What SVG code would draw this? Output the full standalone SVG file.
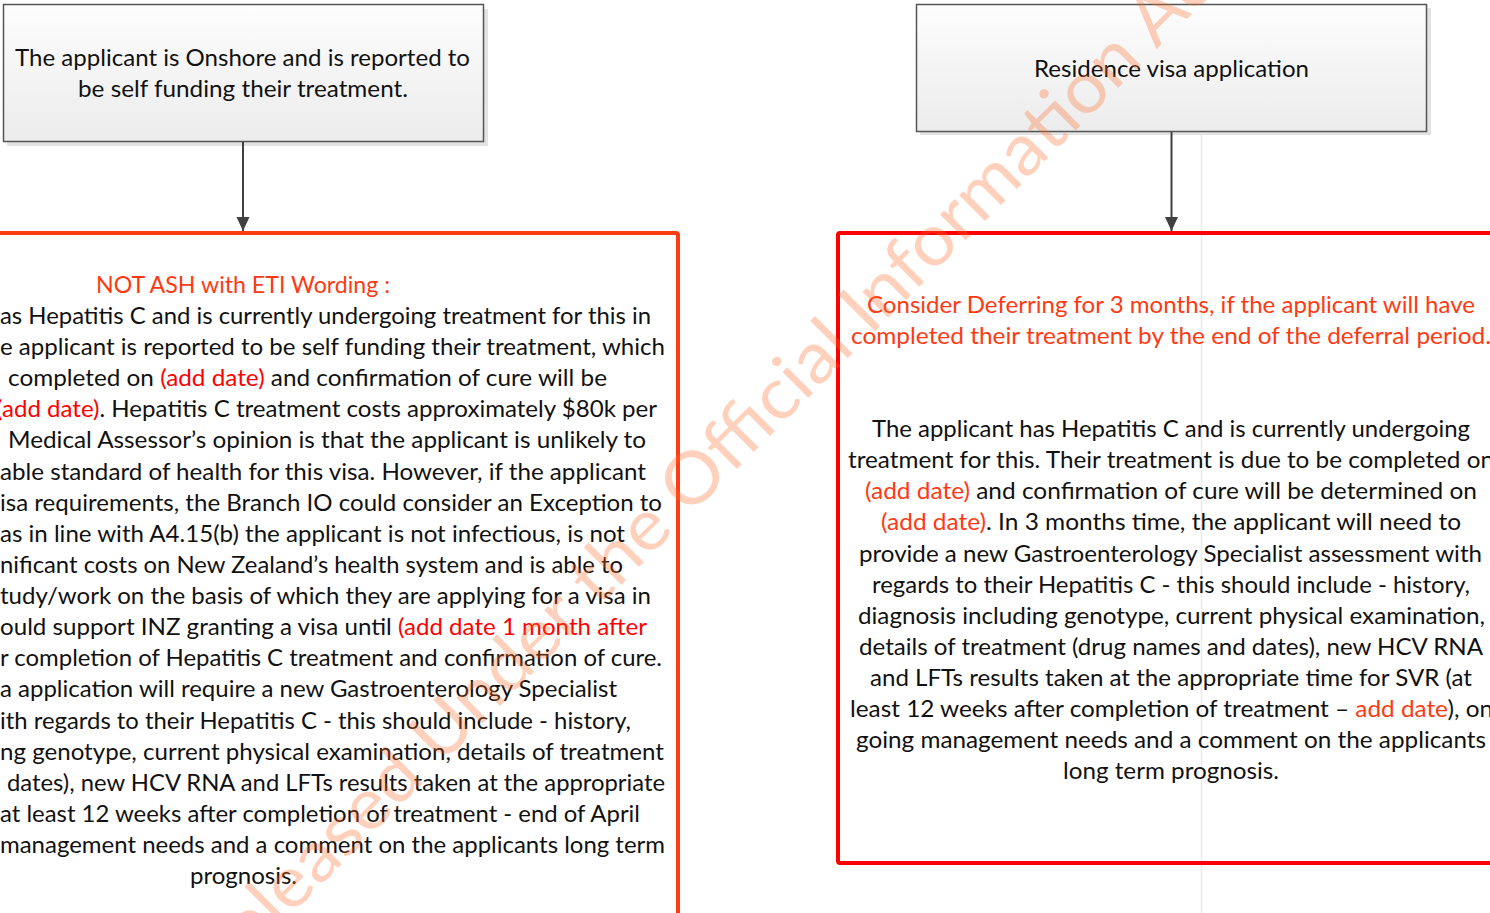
<svg xmlns="http://www.w3.org/2000/svg" width="1490" height="913" viewBox="0 0 1490 913">
<defs>
<linearGradient id="boxGrad" x1="0" y1="0" x2="0" y2="1">
<stop offset="0" stop-color="#fdfdfd"/>
<stop offset="1" stop-color="#ececec"/>
</linearGradient>
<marker id="arrow" markerUnits="userSpaceOnUse" markerWidth="15" markerHeight="15" viewBox="0 0 15 15" refX="14" refY="7.5" orient="auto">
<path d="M0,1 L14,7.5 L0,14 Z" fill="#404040"/>
</marker>
<style>
.t{font-family:Lato,"Open Sans","Liberation Sans",sans-serif;font-size:22.5px;fill:#111}
.r{fill:#ff0000}
.o{fill:#ff3a12}
.box{fill:url(#boxGrad);stroke:#555;stroke-width:1.5}
.shadow{fill:#e3e3e3}
.conn{stroke:#404040;stroke-width:2;fill:none}
.wm{font-family:Lato,"Liberation Sans",sans-serif;font-size:72px;fill:#ff6a26;opacity:0.3}
</style>
</defs>
<rect width="1490" height="913" fill="#ffffff"/>
<line x1="1201.5" y1="131" x2="1201.5" y2="913" stroke="#ebebeb" stroke-width="1.5"/>

<g id="node-onshore">
<rect class="shadow" x="7" y="9" width="481" height="137"/>
<rect class="box" x="3.5" y="4.5" width="480" height="137"/>
<text class="t" x="15" y="66" textLength="455" lengthAdjust="spacingAndGlyphs">The applicant is Onshore and is reported to</text>
<text class="t" x="78" y="97" textLength="330" lengthAdjust="spacingAndGlyphs">be self funding their treatment.</text>
</g>

<g id="node-residence">
<rect class="shadow" x="920" y="8" width="511" height="127"/>
<rect class="box" x="916.5" y="4.5" width="510" height="127"/>
<text class="t" x="1034" y="77" textLength="275" lengthAdjust="spacingAndGlyphs">Residence visa application</text>
</g>

<g id="node-not-ash">
<rect x="-10" y="233" width="688" height="720" rx="2" fill="none" stroke="#ff3c14" stroke-width="4"/>
<text class="t o" x="96" y="293" textLength="294" lengthAdjust="spacingAndGlyphs">NOT ASH with ETI Wording :</text>
<text class="t" x="0" y="324" textLength="651" lengthAdjust="spacingAndGlyphs">as Hepatitis C and is currently undergoing treatment for this in</text>
<text class="t" x="0" y="355" textLength="665" lengthAdjust="spacingAndGlyphs">e applicant is reported to be self funding their treatment, which</text>
<text class="t" x="8" y="386" textLength="599" lengthAdjust="spacingAndGlyphs">completed on <tspan class="r">(add date)</tspan> and confirmation of cure will be</text>
<text class="t" x="-4" y="417" textLength="661" lengthAdjust="spacingAndGlyphs"><tspan class="r">(add date)</tspan>. Hepatitis C treatment costs approximately $80k per</text>
<text class="t" x="8" y="448" textLength="638" lengthAdjust="spacingAndGlyphs">Medical  Assessor’s opinion is that the applicant is unlikely to</text>
<text class="t" x="0" y="480" textLength="646" lengthAdjust="spacingAndGlyphs">able standard of health for this visa. However, if the applicant</text>
<text class="t" x="0" y="511" textLength="662" lengthAdjust="spacingAndGlyphs">isa requirements, the Branch IO could consider an Exception to</text>
<text class="t" x="0" y="542" textLength="625" lengthAdjust="spacingAndGlyphs">as in line with A4.15(b) the applicant is not infectious, is not</text>
<text class="t" x="0" y="573" textLength="623" lengthAdjust="spacingAndGlyphs">nificant costs on New Zealand’s health system and is able to</text>
<text class="t" x="0" y="604" textLength="651" lengthAdjust="spacingAndGlyphs">tudy/work on the basis of which they are applying for a visa in</text>
<text class="t" x="0" y="635" textLength="647" lengthAdjust="spacingAndGlyphs">ould support INZ granting a visa until <tspan class="r">(add date 1 month after</tspan></text>
<text class="t" x="0" y="666" textLength="662" lengthAdjust="spacingAndGlyphs">r completion of Hepatitis C treatment and confirmation of cure.</text>
<text class="t" x="0" y="697" textLength="617" lengthAdjust="spacingAndGlyphs">a application will require a new Gastroenterology Specialist</text>
<text class="t" x="0" y="729" textLength="631" lengthAdjust="spacingAndGlyphs">ith regards to their Hepatitis C - this should include - history,</text>
<text class="t" x="0" y="760" textLength="664" lengthAdjust="spacingAndGlyphs">ng genotype, current physical examination, details of treatment</text>
<text class="t" x="7" y="791" textLength="658" lengthAdjust="spacingAndGlyphs">dates), new HCV RNA and LFTs results taken at the appropriate</text>
<text class="t" x="0" y="822" textLength="640" lengthAdjust="spacingAndGlyphs">at least 12 weeks after completion of treatment - end of April</text>
<text class="t" x="0" y="853" textLength="665" lengthAdjust="spacingAndGlyphs">management needs and a comment on the applicants long term</text>
<text class="t" x="190" y="884" textLength="107" lengthAdjust="spacingAndGlyphs">prognosis.</text>
</g>

<g id="node-defer">
<rect x="838" y="233" width="700" height="630" rx="2" fill="none" stroke="#ff0000" stroke-width="4"/>
<text class="t o" x="867" y="313" textLength="608" lengthAdjust="spacingAndGlyphs">Consider Deferring for 3 months, if the applicant will have</text>
<text class="t o" x="851" y="344" textLength="640" lengthAdjust="spacingAndGlyphs">completed their treatment by the end of the deferral period.</text>
<text class="t" x="872" y="437" textLength="598" lengthAdjust="spacingAndGlyphs">The applicant has Hepatitis C and is currently undergoing</text>
<text class="t" x="848" y="468" textLength="646" lengthAdjust="spacingAndGlyphs">treatment for this. Their treatment is due to be completed on</text>
<text class="t" x="865" y="499" textLength="612" lengthAdjust="spacingAndGlyphs"><tspan class="o">(add date)</tspan> and confirmation of cure will be determined on</text>
<text class="t" x="881" y="530" textLength="580" lengthAdjust="spacingAndGlyphs"><tspan class="o">(add date)</tspan>. In 3 months time, the applicant will need to</text>
<text class="t" x="859" y="562" textLength="623" lengthAdjust="spacingAndGlyphs">provide a new Gastroenterology Specialist assessment with</text>
<text class="t" x="872" y="593" textLength="598" lengthAdjust="spacingAndGlyphs">regards to their Hepatitis C - this should include - history,</text>
<text class="t" x="858" y="624" textLength="627" lengthAdjust="spacingAndGlyphs">diagnosis including genotype, current physical examination,</text>
<text class="t" x="859" y="655" textLength="624" lengthAdjust="spacingAndGlyphs">details of treatment (drug names and dates), new HCV RNA</text>
<text class="t" x="870" y="686" textLength="602" lengthAdjust="spacingAndGlyphs">and LFTs results taken at the appropriate time for SVR (at</text>
<text class="t" x="850" y="717" textLength="643" lengthAdjust="spacingAndGlyphs">least 12 weeks after completion of treatment – <tspan class="o">add date</tspan>), on</text>
<text class="t" x="856" y="748" textLength="630" lengthAdjust="spacingAndGlyphs">going management needs and a comment on the applicants</text>
<text class="t" x="1063" y="779" textLength="216" lengthAdjust="spacingAndGlyphs">long term prognosis.</text>
</g>

<g id="connectors">
<line class="conn" x1="243" y1="142" x2="243" y2="231" marker-end="url(#arrow)"/>
<line class="conn" x1="1171.5" y1="132" x2="1171.5" y2="231" marker-end="url(#arrow)"/>
</g>

<text class="wm" transform="translate(218,988) rotate(-45)" textLength="1440" lengthAdjust="spacingAndGlyphs">Released Under the Official Information Act</text>
</svg>
